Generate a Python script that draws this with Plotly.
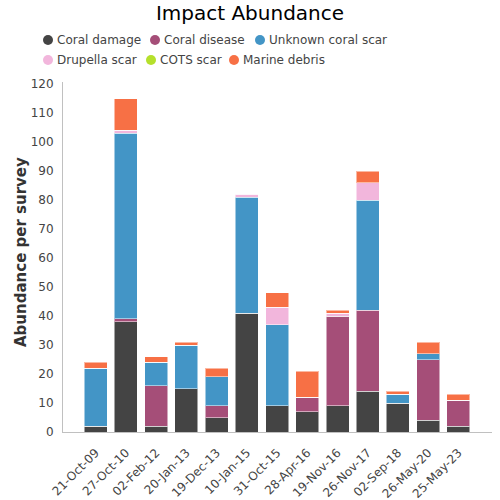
import plotly.graph_objects as go

dates = ["21-Oct-09", "27-Oct-10", "02-Feb-12", "20-Jan-13", "19-Dec-13", "10-Jan-15",
         "31-Oct-15", "28-Apr-16", "19-Nov-16", "26-Nov-17", "02-Sep-18", "26-May-20", "25-May-23"]
coral_damage = [2, 38, 2, 15, 5, 41, 9, 7, 9, 14, 10, 4, 2]
coral_disease = [0, 1, 14, 0, 4, 0, 0, 5, 31, 28, 0, 21, 9]
unknown_scar = [20, 64, 8, 15, 10, 40, 28, 0, 0, 38, 3, 2, 0]
drupella_scar = [0, 1, 0, 0, 0, 1, 6, 0, 1, 6, 0, 0, 0]
cots_scar = [0, 0, 0, 0, 0, 0, 0, 0, 0, 0, 0, 0, 0]
marine_debris = [2, 11, 2, 1, 3, 0, 5, 9, 1, 4, 1, 4, 2]

series_names = ["Coral damage", "Coral disease", "Unknown coral scar",
                "Drupella scar", "COTS scar", "Marine debris"]
series_values = [coral_damage, coral_disease, unknown_scar, drupella_scar, cots_scar, marine_debris]
series_colors = ["#444444", "#A54E78", "#4395C6", "#F2B6DC", "#B5E02C", "#F77045"]

W, H = 500, 500
PL, PR, PT, PB = 63, 492, 82, 432  # plot area in pixels
PW, PH = PR - PL, PB - PT

fig = go.Figure()
for name, vals, col in zip(series_names, series_values, series_colors):
    fig.add_trace(go.Bar(x=dates, y=vals, name=name, marker_color=col,
                         marker_line=dict(color="rgba(255,255,255,0.5)", width=1),
                         showlegend=False))

# Manual legend (two rows, circle markers), positioned in container pixels
legend_pos = [(48, 40), (155, 40), (260, 40), (48, 60), (151, 60), (234, 60)]
shapes = []
annotations = []
for (cx, cy), name, col in zip(legend_pos, series_names, series_colors):
    r = 5
    shapes.append(dict(type="circle", xref="paper", yref="paper",
                       x0=(cx - r - PL) / PW, x1=(cx + r - PL) / PW,
                       y0=(PB - cy - r) / PH, y1=(PB - cy + r) / PH,
                       fillcolor=col, line=dict(width=0)))
    annotations.append(dict(text=name, xref="paper", yref="paper",
                            x=(cx + 7 - PL) / PW, y=(PB - cy) / PH,
                            xanchor="left", yanchor="middle", showarrow=False,
                            font=dict(size=12, color="#444444")))

# Y-axis title
annotations.append(dict(text="<b>Abundance per survey</b>", xref="paper", yref="paper",
                        x=(21 - PL) / PW, y=(PB - 252) / PH, textangle=-90,
                        xanchor="center", yanchor="middle", showarrow=False,
                        font=dict(size=15, color="#333333")))

fig.update_layout(
    width=W, height=H,
    barmode="stack", bargap=0.24,
    plot_bgcolor="white", paper_bgcolor="white",
    font=dict(family="DejaVu Sans", color="#444444", size=12),
    title=dict(text="Impact Abundance", x=0.5, xref="container", xanchor="center",
               y=1 - 13 / H, yref="container", yanchor="middle",
               font=dict(size=20, color="#000000")),
    margin=dict(l=PL, r=W - PR, t=PT, b=H - PB),
    showlegend=False,
    shapes=shapes,
    annotations=annotations,
    xaxis=dict(tickangle=-45, showline=True, linecolor="#c0c0c0", linewidth=1,
               range=[-1.08, 13.11], ticks="", ticklabelstandoff=8,
               tickfont=dict(size=12, color="#444444"), showgrid=False, automargin=False),
    yaxis=dict(range=[0, 120.7], dtick=10, showline=True, linecolor="#c0c0c0", linewidth=1,
               ticks="", ticklabelstandoff=6,
               showgrid=False, zeroline=False, automargin=False,
               tickfont=dict(size=12, color="#444444")),
)

fig.write_html("out.html", config={"displayModeBar": False},
               post_script="document.body.style.margin='0px';")
